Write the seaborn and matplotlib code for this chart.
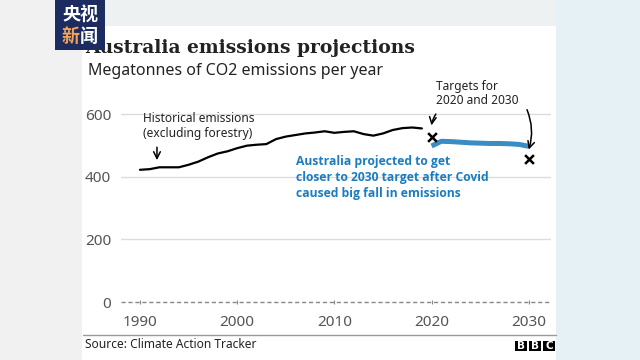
import matplotlib
matplotlib.use("Agg")
import matplotlib.pyplot as plt
from matplotlib.patches import Rectangle
import seaborn as sns

# data
hist_years = list(range(1990, 2020))
hist_values = [422, 424, 430, 430, 430, 438, 448, 462, 474, 481,
               491, 499, 502, 504, 520, 528, 533, 538, 541, 545,
               540, 543, 545, 536, 531, 538, 549, 555, 557, 554]
proj_years = list(range(2020, 2031))
proj_values = [498, 513, 512, 510, 508, 507, 506, 506, 505, 503, 497]
target_years = [2020, 2030]
target_values = [528, 456]
x_ticks = [1990, 2000, 2010, 2020, 2030]
y_ticks = [0, 200, 400, 600]

sns.set_theme(style="white")
plt.rcParams['font.family'] = ['Noto Sans', 'DejaVu Sans']

W, H = 640, 360
def px(x, y):
    return x / W, 1 - y / H

fig = plt.figure(figsize=(6.4, 3.6), dpi=100)
fig.patch.set_facecolor('#eef1f2')

# background pieces and white card
fig.add_artist(Rectangle(px(556, 360), 84 / W, 360 / H, transform=fig.transFigure,
                         facecolor='#e6f1f5', edgecolor='none', zorder=-10))
fig.add_artist(Rectangle(px(0, 360), 82 / W, 360 / H, transform=fig.transFigure,
                         facecolor='#f1f1f1', edgecolor='none', zorder=-10))
fig.add_artist(Rectangle(px(82, 360), 474 / W, 334 / H, transform=fig.transFigure,
                         facecolor='white', edgecolor='none', zorder=-5))

l, b = px(121, 302)
r, t = px(551, 101.5)
ax = fig.add_axes([l, b, r - l, t - b])
ax.set_facecolor('none')

blue_line = '#3a8cc4'
blue_text = '#1b7cc0'

sns.lineplot(x=hist_years, y=hist_values, ax=ax, color='black', linewidth=1.6)
sns.lineplot(x=proj_years, y=proj_values, ax=ax, color=blue_line, linewidth=3.6,
             solid_capstyle='butt')
sns.scatterplot(x=target_years, y=target_values, ax=ax, marker='x', s=40,
                color='black', linewidth=1.8, zorder=5)

ax.set_xlim(1988.05, 2032.28)
ax.set_ylim(0, 640)
ax.set_xticks(x_ticks)
ax.set_yticks(y_ticks)
for s in ax.spines.values():
    s.set_visible(False)
for yv in y_ticks[1:]:
    ax.axhline(yv, color='#dcdcdc', linewidth=1, zorder=0)
ax.axhline(0, color='#888888', linewidth=1, linestyle=(0, (3, 2)), clip_on=False, zorder=1)
ax.tick_params(axis='y', length=0, pad=7, labelsize=11, labelcolor='#555555')
ax.tick_params(axis='x', length=3, width=0.8, color='#888888', direction='inout',
               pad=8, labelsize=11, labelcolor='#555555', bottom=True)
ax.set_xlabel('')
ax.set_ylabel('')

# annotations
ax.text(1990.3, 562, 'Historical emissions\n(excluding forestry)', fontsize=8.6,
        color='#222222', va='center', ha='left', linespacing=1.15)
ax.annotate('', xy=(1991.75, 444), xytext=(1991.75, 503),
            arrowprops=dict(arrowstyle='->', color='black', lw=1.1))
ax.text(2020.45, 665, 'Targets for\n2020 and 2030', fontsize=8.6, color='#222222',
        va='center', ha='left', linespacing=1.15, clip_on=False)
ax.annotate('', xy=(2019.95, 555), xytext=(2020.6, 607), annotation_clip=False,
            arrowprops=dict(arrowstyle='->', color='black', lw=1.1,
                            connectionstyle='arc3,rad=0.15'))
ax.annotate('', xy=(2029.9, 478), xytext=(2029.7, 622), annotation_clip=False,
            arrowprops=dict(arrowstyle='->', color='black', lw=1.1,
                            connectionstyle='arc3,rad=-0.2'))
ax.text(2006.0, 470, 'Australia projected to get\ncloser to 2030 target after Covid\ncaused big fall in emissions',
        family=['Open Sans', 'DejaVu Sans'], fontsize=8.7, fontweight='bold',
        color=blue_text, va='top', ha='left', linespacing=1.3)

# titles
fig.text(*px(85, 53), 'Australia emissions projections', family='DejaVu Serif',
         fontsize=13.5, fontweight='bold', color='#222222', va='baseline', ha='left')
fig.text(*px(88, 75), 'Megatonnes of CO2 emissions per year', fontsize=11.5,
         color='#222222', va='baseline', ha='left')

# footer
fig.add_artist(plt.Line2D([83 / W, 556 / W], [1 - 335 / H, 1 - 335 / H],
                          transform=fig.transFigure, color='#999999', linewidth=1))
fig.text(*px(85, 348), 'Source: Climate Action Tracker', fontsize=8.6,
         color='#222222', va='baseline', ha='left')
for i, letter in enumerate('BBC'):
    x0 = 515 + i * 14
    fig.add_artist(Rectangle(px(x0, 351), 12 / W, 10 / H, transform=fig.transFigure,
                             facecolor='black', edgecolor='none'))
    fig.text(*px(x0 + 6, 346), letter, family='DejaVu Sans', fontsize=7.5,
             fontweight='bold', color='white', ha='center', va='center')

# CCTV news logo
fig.add_artist(Rectangle(px(55, 50), 50 / W, 50 / H, transform=fig.transFigure,
                         facecolor='#1c2c60', edgecolor='none', zorder=10))
cjk = ['Noto Sans CJK SC', 'DejaVu Sans']
fig.text(*px(80, 15), '央视', family=cjk, fontsize=13, fontweight='bold',
         color='white', ha='center', va='center', zorder=11)
fig.text(*px(80, 36), '新', family=cjk, fontsize=13, fontweight='bold',
         color='#f2a45a', ha='right', va='center', zorder=11)
fig.text(*px(80, 36), '闻', family=cjk, fontsize=13, fontweight='bold',
         color='white', ha='left', va='center', zorder=11)

fig.savefig('out.png', dpi=100, facecolor=fig.get_facecolor())
